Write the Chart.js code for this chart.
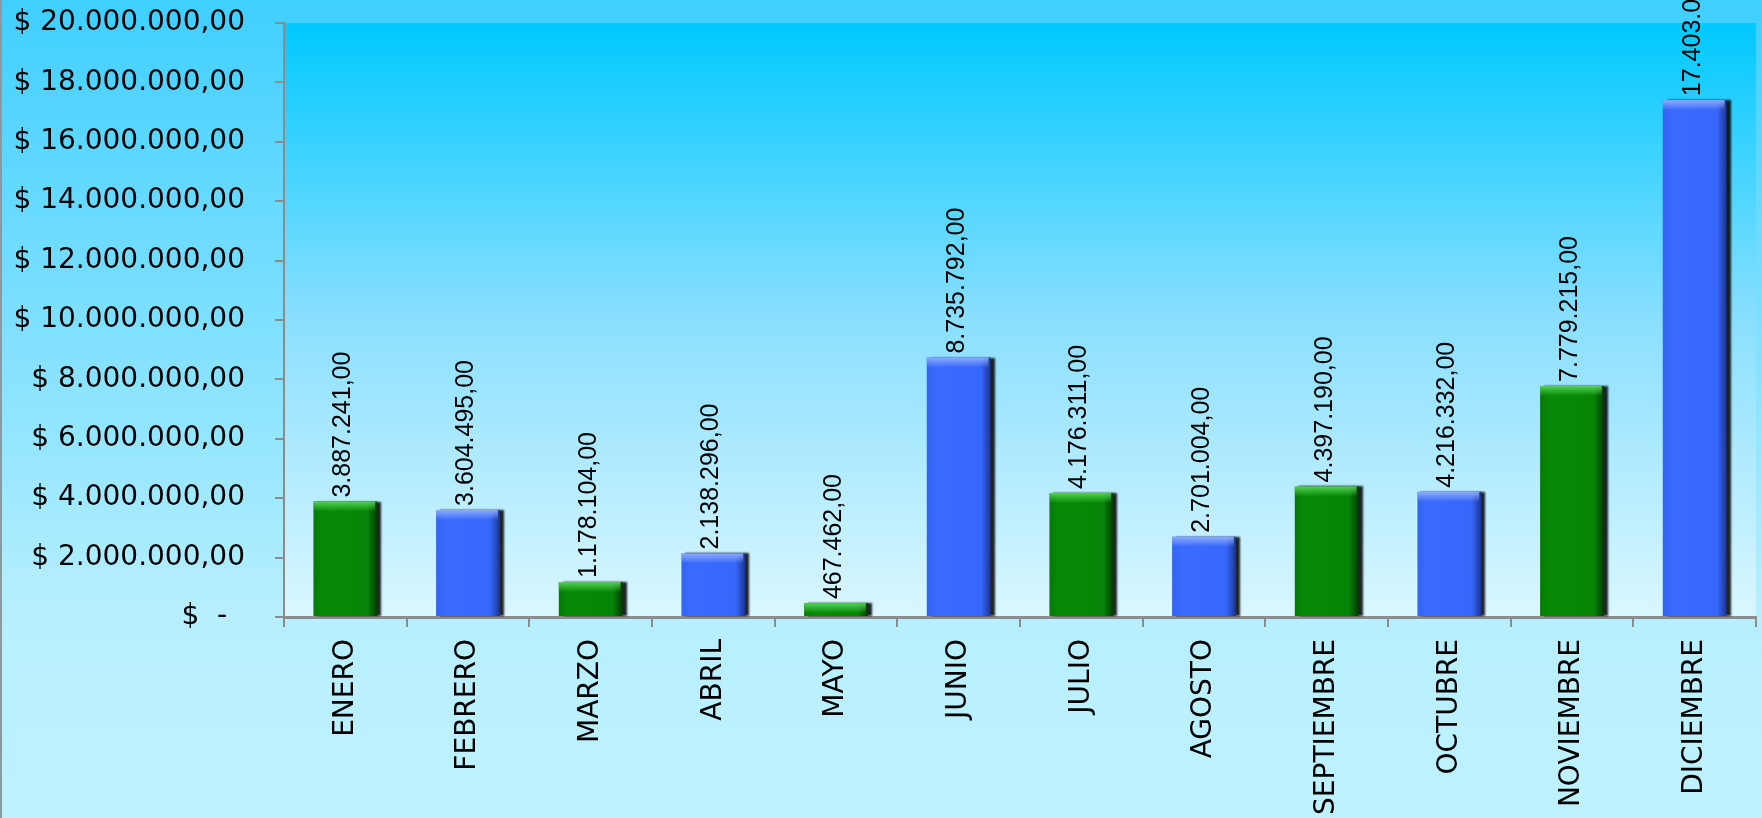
<!DOCTYPE html>
<html>
<head>
<meta charset="utf-8">
<script src="https://cdn.jsdelivr.net/npm/chart.js@4/dist/chart.umd.min.js"></script>
<style>
html,body{margin:0;padding:0;background:#bff2ff;}
#wrap{width:1762px;height:818px;position:relative;}
</style>
</head>
<body>
<div id="wrap"><canvas id="c" width="1762" height="818"></canvas></div>
<script>
const categories = ["ENERO","FEBRERO","MARZO","ABRIL","MAYO","JUNIO","JULIO","AGOSTO","SEPTIEMBRE","OCTUBRE","NOVIEMBRE","DICIEMBRE"];
const values = [3887241, 3604495, 1178104, 2138296, 467462, 8735792, 4176311, 2701004, 4397190, 4216332, 7779215, 17403000];
const barKinds = ["g","b","g","b","g","b","g","b","g","b","g","b"];
const yMin = 0, yMax = 20000000, yStep = 2000000;
const BAR_PCT = 0.52;

function fmtNum(v){
  const s = Math.round(v).toString();
  let out = "";
  for (let i=0;i<s.length;i++){
    if (i>0 && (s.length-i)%3===0) out += ".";
    out += s[i];
  }
  return out + ",00";
}

const bgPlugin = {
  id:'bg',
  beforeDraw(chart){
    const {ctx, chartArea:a, width, height} = chart;
    ctx.save();
    let g = ctx.createLinearGradient(0,0,0,height);
    g.addColorStop(0,'#3fcfff');
    g.addColorStop(0.75,'#b7efff');
    g.addColorStop(1,'#bff2ff');
    ctx.fillStyle = g;
    ctx.fillRect(0,0,width,height);
    let g2 = ctx.createLinearGradient(0,a.top,0,a.bottom);
    g2.addColorStop(0,'#00c9ff');
    g2.addColorStop(0.5,'#8adfff');
    g2.addColorStop(1,'#daf7ff');
    ctx.fillStyle = g2;
    ctx.fillRect(a.left,a.top,a.right-a.left,a.bottom-a.top);
    ctx.fillStyle = '#8a9aa0';
    ctx.fillRect(0,0,2,height);
    ctx.restore();
  }
};

const shadowPlugin = {
  id:'shadow',
  beforeDatasetDraw(chart){
    const ctx = chart.ctx;
    ctx.save();
    ctx.shadowColor = 'rgba(0,0,0,0.85)';
    ctx.shadowOffsetX = 4;
    ctx.shadowOffsetY = 0;
    ctx.shadowBlur = 2;
  },
  afterDatasetDraw(chart){
    const ctx = chart.ctx;
    ctx.restore();
    const meta = chart.getDatasetMeta(0);
    ctx.save();
    meta.data.forEach((el,i)=>{
      const w = el.width, x0 = el.x - w/2, y0 = el.y;
      const h = Math.min(10, el.base - el.y);
      if (!isFinite(x0) || !isFinite(y0) || !(h>0)) return;
      const g = ctx.createLinearGradient(0,y0,0,y0+h);
      if (barKinds[i]==='g'){
        g.addColorStop(0,'rgba(90,220,90,0.9)');
        g.addColorStop(1,'rgba(90,220,90,0)');
      } else {
        g.addColorStop(0,'rgba(150,180,255,0.9)');
        g.addColorStop(1,'rgba(150,180,255,0)');
      }
      ctx.fillStyle = g;
      ctx.fillRect(x0, y0, w-2, h);
    });
    ctx.restore();
  }
};

const labelPlugin = {
  id:'vlabels',
  afterDatasetsDraw(chart){
    const ctx = chart.ctx;
    const meta = chart.getDatasetMeta(0);
    ctx.save();
    ctx.fillStyle = '#000';
    ctx.font = '25px "Liberation Sans", Arial, sans-serif';
    ctx.textAlign = 'left';
    ctx.textBaseline = 'middle';
    meta.data.forEach((el,i)=>{
      ctx.save();
      ctx.translate(el.x - 2, el.y - 4);
      ctx.rotate(-Math.PI/2);
      ctx.fillText(fmtNum(values[i]), 0, 0);
      ctx.restore();
    });
    ctx.restore();
  }
};

function barFill(context){
  const chart = context.chart;
  const i = context.dataIndex;
  const solid = barKinds[i]==='g' ? '#078a07' : '#3a6bff';
  const xs = chart.scales && chart.scales.x;
  if (!chart.chartArea || !xs) return solid;
  const cx = xs.getPixelForValue(i);
  const w = (xs.right - xs.left) / categories.length * BAR_PCT;
  const x0 = cx - w/2, x1 = cx + w/2;
  if (!isFinite(x0) || !isFinite(x1) || x1<=x0) return solid;
  const g = chart.ctx.createLinearGradient(x0,0,x1,0);
  if (barKinds[i]==='g'){
    g.addColorStop(0,'#067a06');
    g.addColorStop(0.15,'#088a08');
    g.addColorStop(0.85,'#078407');
    g.addColorStop(1,'#023a02');
  } else {
    g.addColorStop(0,'#3463f2');
    g.addColorStop(0.15,'#3a6bff');
    g.addColorStop(0.85,'#3766fb');
    g.addColorStop(1,'#1b3590');
  }
  return g;
}

new Chart(document.getElementById('c'), {
  type:'bar',
  data:{
    labels: categories,
    datasets:[{
      data: values,
      backgroundColor: barFill,
      borderWidth: 0,
      barPercentage: BAR_PCT,
      categoryPercentage: 1.0
    }]
  },
  options:{
    responsive:false,
    animation:false,
    layout:{padding:{top:23,right:6,left:0,bottom:0}},
    plugins:{legend:{display:false},tooltip:{enabled:false}},
    scales:{
      x:{
        offset:true,
        grid:{display:true,drawOnChartArea:false,drawTicks:true,tickLength:10,color:'#8c8c8c',lineWidth:2},
        border:{display:true,color:'#8c8c8c',width:3},
        ticks:{color:'#000',font:{family:'"DejaVu Sans", sans-serif',size:28},minRotation:90,maxRotation:90,padding:12,autoSkip:false},
        afterFit(scale){ scale.height = 201; }
      },
      y:{
        min:yMin, max:yMax,
        grid:{display:true,drawOnChartArea:false,drawTicks:true,tickLength:9,color:'#8c8c8c',lineWidth:2},
        border:{display:true,color:'#8c8c8c',width:2},
        ticks:{
          stepSize:yStep,
          color:'#000',
          font:{family:'"DejaVu Sans", sans-serif',size:28},
          padding:30,
          callback(v){ return v===0 ? '$  -  ' : '$ ' + fmtNum(v); }
        },
        afterFit(scale){ scale.width = 284; scale.paddingTop = 0; scale.paddingBottom = 0; }
      }
    }
  },
  plugins:[bgPlugin, shadowPlugin, labelPlugin]
});
</script>
</body>
</html>
